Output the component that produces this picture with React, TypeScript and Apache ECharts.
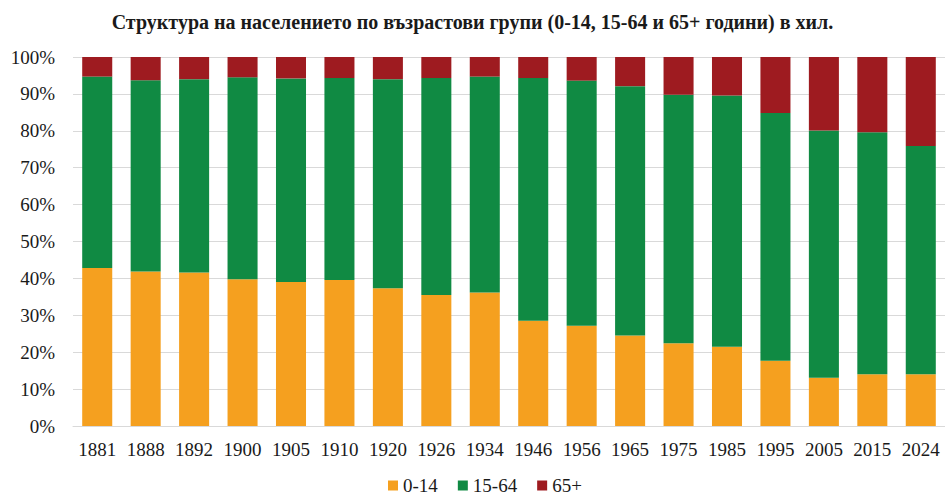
import React, { useEffect, useRef } from "react";
import * as echarts from "echarts";

const years = ["1881", "1888", "1892", "1900", "1905", "1910", "1920", "1926", "1934", "1946", "1956", "1965", "1975", "1985", "1995", "2005", "2015", "2024"];
const age0to14 = [42.8, 41.9, 41.6, 39.8, 39.0, 39.6, 37.3, 35.5, 36.2, 28.5, 27.2, 24.5, 22.4, 21.5, 17.7, 13.1, 14.0, 14.0];
const age15to64 = [51.9, 51.8, 52.4, 54.7, 55.2, 54.7, 56.7, 58.8, 58.5, 65.8, 66.4, 67.6, 67.4, 68.1, 67.1, 67.0, 65.6, 61.9];
const age65plus = [5.3, 6.3, 6.0, 5.5, 5.8, 5.7, 6.0, 5.7, 5.3, 5.7, 6.4, 7.9, 10.2, 10.4, 15.2, 19.9, 20.4, 24.1];
const seriesNames = ["0-14", "15-64", "65+"];
const colors = ["#F5A01F", "#108A43", "#9E1B20"];
const titleText = "Структура на населението по възрастови групи (0-14, 15-64 и 65+ години) в хил.";

const FONT = "'Liberation Serif', 'Times New Roman', serif";

export default function App() {
  const ref = useRef<HTMLDivElement>(null);
  useEffect(() => {
    if (!ref.current) return;
    const chart = echarts.init(ref.current, null, { renderer: "svg" });
    const data = [age0to14, age15to64, age65plus];
    chart.setOption({
      animation: false,
      backgroundColor: "#ffffff",
      title: {
        text: titleText,
        left: "center",
        top: 7,
        textStyle: { fontFamily: FONT, fontWeight: "bold", fontSize: 20, color: "#1a1a1a" },
      },
      legend: {
        bottom: 0,
        left: 383,
        icon: "rect",
        itemWidth: 10,
        itemHeight: 10,
        itemGap: 20,
        textStyle: { fontFamily: FONT, fontSize: 19, color: "#1a1a1a" },
        data: seriesNames,
      },
      grid: { left: 73, right: 0, top: 57, bottom: 74, containLabel: false },
      xAxis: {
        type: "category",
        data: years,
        axisTick: { show: false },
        axisLine: { show: true, lineStyle: { color: "#d9d9d9" } },
        axisLabel: { fontFamily: FONT, fontSize: 19, color: "#1a1a1a", margin: 14, interval: 0 },
      },
      yAxis: {
        type: "value",
        min: 0,
        max: 100,
        interval: 10,
        axisLine: { show: false },
        axisTick: { show: false },
        splitLine: { lineStyle: { color: "#d9d9d9", width: 1 } },
        axisLabel: { fontFamily: FONT, fontSize: 19, color: "#1a1a1a", margin: 18, formatter: "{value}%" },
      },
      series: seriesNames.map((name, i) => ({
        name,
        type: "bar",
        stack: "total",
        barWidth: "62%",
        itemStyle: { color: colors[i] },
        data: data[i],
      })),
    });
    return () => chart.dispose();
  }, []);
  return <div ref={ref} style={{ position: "fixed", left: 0, top: 0, width: 945, height: 500 }} />;
}
